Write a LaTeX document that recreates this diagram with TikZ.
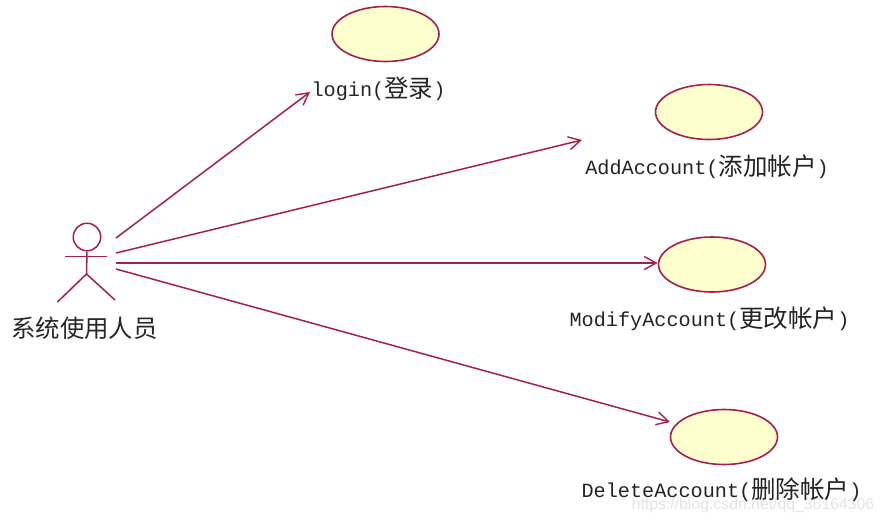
\documentclass[tikz,border=0pt]{standalone}
\usepackage{fontspec}
\setmainfont{Liberation Sans}
\newfontfamily\cjk{Noto Sans CJK SC}
\setmonofont{Liberation Mono}
\usetikzlibrary{arrows.meta,shapes.geometric}
\definecolor{umlline}{RGB}{165,30,80}
\definecolor{umlfill}{RGB}{255,255,205}
\definecolor{txt}{RGB}{35,35,35}
\tikzset{
  usecase/.style={ellipse,draw=umlline,fill=umlfill,line width=1.6pt,minimum width=107pt,minimum height=55pt,inner sep=0pt},
  assoc/.style={draw=umlline,line width=1.5pt,-{Straight Barb[length=12pt,width=13pt,line width=1.4pt]}},
  lbl/.style={text=txt,inner sep=0pt},
  stick/.style={draw=umlline,line width=1.5pt},
  wmark/.style={text=black!11,font=\fontsize{15.8}{16}\selectfont,inner sep=0pt}
}
\newcommand{\ltxt}[1]{{\ttfamily\fontsize{20.2}{24}\selectfont #1}}
\newcommand{\ctxt}[1]{\raisebox{-1.2pt}{\cjk\fontsize{24.5}{24}\selectfont #1}}
\begin{document}
\begin{tikzpicture}[x=1pt,y=-1pt]
\useasboundingbox (0,0) rectangle (885,523);
\node[usecase] (uc1) at (385.5,34) {};
\node[usecase] (uc2) at (709,112) {};
\node[usecase] (uc3) at (712,264.5) {};
\node[usecase] (uc4) at (724,437) {};
\node[wmark] (wm) at (753,505) {https://blog.csdn.net/qq\_36164306};
\node[lbl] (t1) at (378.5,89) {\ltxt{login(}\ctxt{登录}\ltxt{)}};
\node[lbl] (t2) at (707,167) {\ltxt{AddAccount(}\ctxt{添加帐户}\ltxt{)}};
\node[lbl] (t3) at (709.5,319) {\ltxt{ModifyAccount(}\ctxt{更改帐户}\ltxt{)}};
\node[lbl] (t4) at (721.5,490) {\ltxt{DeleteAccount(}\ctxt{删除帐户}\ltxt{)}};
% actor
\node[circle,draw=umlline,line width=1.5pt,minimum size=27.5pt,inner sep=0pt] (head) at (87,237) {};
\coordinate (armL) at (65,256.7);
\coordinate (armR) at (107,256.7);
\coordinate (hip) at (86.5,274);
\coordinate (legL) at (57.5,302);
\coordinate (legR) at (115,300);
\draw[stick] (head.south) -- (hip);
\draw[stick] (armL) -- (armR);
\draw[stick] (legL) -- (hip) -- (legR);
\node[lbl,text=black!85,font=\cjk\fontsize{24.4}{24}\selectfont] (actor) at (84.5,328) {系统使用人员};
% connectors
\coordinate (a1) at (116,238);
\coordinate (a2) at (116,253);
\coordinate (a3) at (116,263);
\coordinate (a4) at (116,269);
\coordinate (e1) at (310,92);
\coordinate (e2) at (582,140);
\coordinate (e4) at (670,422);
\draw[assoc] (a1) -- (e1);
\draw[assoc] (a2) -- (e2);
\draw[assoc] (a3) -- (a3 -| uc3.west);
\draw[assoc] (a4) -- (e4);
\end{tikzpicture}
\end{document}
